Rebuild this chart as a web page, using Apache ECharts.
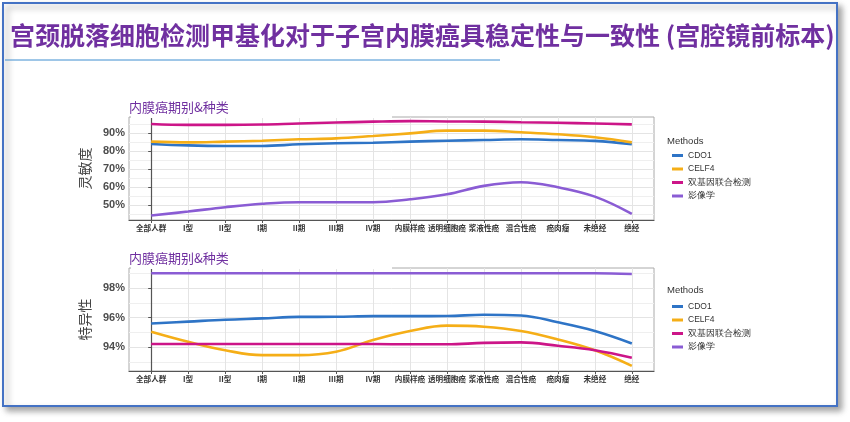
<!DOCTYPE html>
<html>
<head>
<meta charset="utf-8">
<script src="https://cdn.jsdelivr.net/npm/echarts@6/dist/echarts.min.js"></script>
<style>
html,body{margin:0;padding:0;background:#fff;}
#c{width:850px;height:422px;}
</style>
</head>
<body>
<div id="c"></div>
<script>
const categories = ['全部人群','I型','II型','I期','II期','III期','IV期','内膜样癌','透明细胞癌','浆液性癌','混合性癌','癌肉瘤','未绝经','绝经'];
const methods = ['CDO1','CELF4','双基因联合检测','影像学'];
const colors = ['#2E74C6','#F5AE17','#CC1588','#8A5CD4'];

// 灵敏度 (%)
const sensCDO1  = [83.9,83.1,82.8,82.8,83.7,84.3,84.6,85.2,85.7,86.1,86.5,86.1,85.6,83.7];
const sensCELF4 = [85.2,84.8,85.2,85.7,86.5,87.0,88.3,89.8,91.3,91.3,90.4,89.3,87.6,84.8];
const sensCombo = [95.0,94.5,94.5,94.7,95.3,95.8,96.3,96.6,96.4,96.3,96.0,95.7,95.3,94.8];
const sensImage = [44.1,46.3,48.7,50.6,51.5,51.5,51.5,53.1,55.9,60.6,62.6,59.8,54.6,45.0];

// 特异性 (%)
const specCDO1  = [95.60,95.73,95.86,95.95,96.05,96.06,96.10,96.10,96.11,96.20,96.14,95.69,95.10,94.26];
const specCELF4 = [95.05,94.37,93.80,93.47,93.47,93.70,94.49,95.10,95.46,95.39,95.10,94.53,93.80,92.75];
const specCombo = [94.22,94.22,94.22,94.22,94.22,94.22,94.22,94.20,94.20,94.30,94.33,94.10,93.80,93.29];
const specImage = [99.0,99.0,99.0,99.0,99.0,99.0,99.0,99.0,99.0,99.0,99.0,99.0,99.0,98.95];

const sensTicks = [50,60,70,80,90];
const sensMinor = [45,55,65,75,85,95];
const specTicks = [94,96,98];
const specMinor = [93,95,97,99];

const title = '宫颈脱落细胞检测甲基化对于子宫内膜癌具稳定性与一致性 (宫腔镜前标本)';
const subTitle = '内膜癌期别&种类';

const chart = echarts.init(document.getElementById('c'));
const idx = categories.map((_, i) => i);
const pair = arr => arr.map((v, i) => [i, v]);

function xAxisDef(gridIndex) {
  return {
    type: 'value', gridIndex: gridIndex, min: -0.6, max: 13.6,
    axisLine: {show: true, onZero: false, lineStyle: {color: '#555', width: 1.2}},
    axisTick: {show: true, customValues: idx, length: 3, lineStyle: {color: '#555'}},
    axisLabel: {customValues: idx, formatter: v => categories[Math.round(v)] || '', color: '#333',
      fontSize: 7.6, fontWeight: 'bold', fontFamily: 'Noto Sans CJK SC', margin: 4},
    splitLine: {show: true, lineStyle: {color: '#e4e4e4', width: 1}}
  };
}
function yAxisMain(gridIndex, min, max, ticks, name) {
  return {
    type: 'value', gridIndex: gridIndex, min: min, max: max,
    name: name, nameLocation: 'middle', nameGap: 31, nameRotate: 90,
    nameTextStyle: {fontSize: 14, color: '#444', fontFamily: 'Noto Sans CJK SC'},
    axisLine: {show: true, lineStyle: {color: '#555', width: 1.2}},
    axisTick: {show: true, customValues: ticks, length: 3, lineStyle: {color: '#555'}},
    axisLabel: {customValues: ticks, formatter: v => v + '%', color: '#4d4d4d', fontSize: 11,
      fontWeight: 'bold', fontFamily: 'Liberation Sans', margin: 4},
    splitLine: {show: true, lineStyle: {color: '#e4e4e4', width: 1}}
  };
}
function yAxisMinor(gridIndex, min, max, ticks) {
  return {
    type: 'value', gridIndex: gridIndex, min: min, max: max, position: 'left',
    axisLine: {show: false}, axisLabel: {show: false},
    axisTick: {show: false, customValues: ticks},
    splitLine: {show: true, lineStyle: {color: '#efefef', width: 1}}
  };
}

const sensData = [sensCDO1, sensCELF4, sensCombo, sensImage];
const specData = [specCDO1, specCELF4, specCombo, specImage];
const series = [];
methods.forEach((m, k) => {
  series.push({name: m, type: 'line', xAxisIndex: 0, yAxisIndex: 0, data: pair(sensData[k]),
    smooth: 0.4, symbol: 'none', lineStyle: {width: 2.6, color: colors[k]}, itemStyle: {color: colors[k]}, z: 5});
});
methods.forEach((m, k) => {
  series.push({name: m, type: 'line', xAxisIndex: 1, yAxisIndex: 2, data: pair(specData[k]),
    smooth: 0.4, symbol: 'none', lineStyle: {width: 2.6, color: colors[k]}, itemStyle: {color: colors[k]}, z: 5});
});

function legendDef(top) {
  return {
    orient: 'vertical', left: 667, top: top, data: methods,
    icon: 'rect', itemWidth: 11, itemHeight: 3, itemGap: 4.5,
    textStyle: {fontSize: 8.5, color: '#333', fontFamily: 'Liberation Sans', lineHeight: 9},
    selectedMode: false
  };
}

chart.setOption({
  backgroundColor: '#fff',
  animation: false,
  grid: [
    {left: 129, top: 117, width: 525, height: 103, show: true, borderColor: '#aaa', borderWidth: 1, backgroundColor: 'transparent'},
    {left: 129, top: 268, width: 525, height: 103, show: true, borderColor: '#aaa', borderWidth: 1, backgroundColor: 'transparent'}
  ],
  xAxis: [xAxisDef(0), xAxisDef(1)],
  yAxis: [
    yAxisMain(0, 41.6, 98.9, sensTicks, '灵敏度'),
    yAxisMinor(0, 41.6, 98.9, sensMinor),
    yAxisMain(1, 92.4, 99.35, specTicks, '特异性'),
    yAxisMinor(1, 92.4, 99.35, specMinor)
  ],
  legend: [legendDef(146), legendDef(297)],
  graphic: [
    {type: 'rect', z: -10, shape: {x: 3, y: 3, width: 834, height: 403},
      style: {fill: '#fff', stroke: '#4472C4', lineWidth: 2, shadowBlur: 6, shadowOffsetX: 4, shadowOffsetY: 4, shadowColor: 'rgba(0,0,0,0.35)'}},
    {type: 'text', x: 10, y: 35, z: 10, style: {text: title, fill: '#7030A0',
      font: 'bold 25px "Noto Sans CJK SC"', textVerticalAlign: 'middle'}},
    {type: 'line', z: 10, shape: {x1: 5, y1: 60, x2: 500, y2: 60}, style: {stroke: '#3E8ED0', lineWidth: 1}},
    {type: 'text', x: 129, y: 107, z: 10, style: {text: subTitle, fill: '#7030A0',
      font: '13px "Noto Sans CJK SC"', textVerticalAlign: 'middle'}},
    {type: 'text', x: 129, y: 258, z: 10, style: {text: subTitle, fill: '#7030A0',
      font: '13px "Noto Sans CJK SC"', textVerticalAlign: 'middle'}},
    {type: 'rect', z: 20, shape: {x: 131, y: 115, width: 261, height: 3}, style: {fill: '#fff'}},
    {type: 'rect', z: 20, shape: {x: 131, y: 266, width: 261, height: 3}, style: {fill: '#fff'}},
    {type: 'text', x: 667, y: 141, z: 10, style: {text: 'Methods', fill: '#333', font: '9.5px "Liberation Sans"', textVerticalAlign: 'middle'}},
    {type: 'text', x: 667, y: 290, z: 10, style: {text: 'Methods', fill: '#333', font: '9.5px "Liberation Sans"', textVerticalAlign: 'middle'}}
  ],
  series: series
});
</script>
</body>
</html>
